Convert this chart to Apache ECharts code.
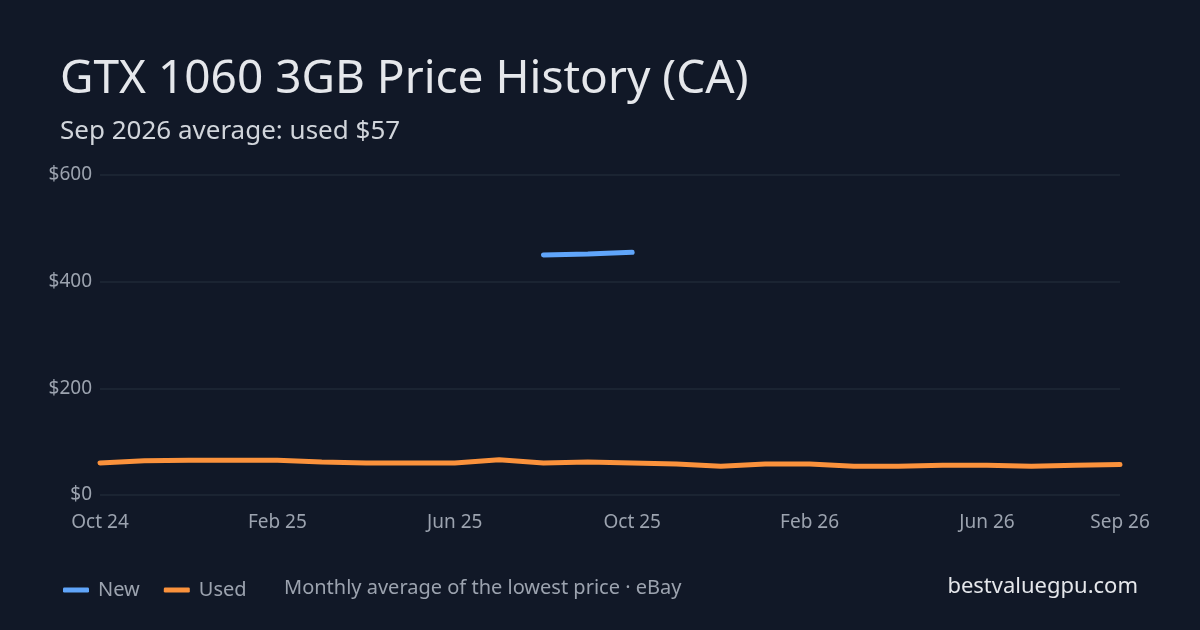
<!DOCTYPE html>
<html>
<head>
<meta charset="utf-8">
<script src="https://cdn.jsdelivr.net/npm/echarts@6/dist/echarts.min.js"></script>
<style>
  html, body { margin: 0; padding: 0; background: #111827; }
  #chart { width: 1200px; height: 630px; }
</style>
</head>
<body>
<div id="chart"></div>
<script>
// monthly points Oct 24 .. Sep 26
const months = ['Oct 24','Nov 24','Dec 24','Jan 25','Feb 25','Mar 25','Apr 25','May 25','Jun 25','Jul 25','Aug 25','Sep 25',
  'Oct 25','Nov 25','Dec 25','Jan 26','Feb 26','Mar 26','Apr 26','May 26','Jun 26','Jul 26','Aug 26','Sep 26'];
const newPrices = [null,null,null,null,null,null,null,null,null,null,450,452,455,null,null,null,null,null,null,null,null,null,null,null];
const usedPrices = [60,64,65,65,65,62,60,60,60,66,60,62,60,58,54,58,58,54,54,56,56,54,56,57];
const yTicks = [0, 200, 400, 600];

const chart = echarts.init(document.getElementById('chart'));
const font = 'Noto Sans';

chart.setOption({
  backgroundColor: '#111827',
  animation: false,
  textStyle: { fontFamily: font },
  title: [
    { text: 'GTX 1060 3GB Price History (CA)', left: 55, top: 52,
      textStyle: { color: '#e5e7eb', fontSize: 46, fontWeight: 'normal', fontFamily: font } },
    { text: 'Sep 2026 average: used $57', left: 55, top: 114,
      textStyle: { color: '#d1d5db', fontSize: 26, fontWeight: 'normal', fontFamily: font } },
    { text: 'Monthly average of the lowest price · eBay', left: 279, top: 573,
      textStyle: { color: '#9ca3af', fontSize: 20, fontWeight: 'normal', fontFamily: font } },
    { text: 'bestvaluegpu.com', right: 57, top: 571,
      textStyle: { color: '#e5e7eb', fontSize: 22, fontWeight: 'normal', fontFamily: font } }
  ],
  legend: {
    left: 58, top: 575, itemGap: 24, itemWidth: 26, itemHeight: 5,
    icon: 'roundRect',
    textStyle: { color: '#9ca3af', fontSize: 20, fontFamily: font, padding: [0, 0, 0, 4] },
    data: ['New', 'Used']
  },
  grid: { left: 100, right: 80, top: 175, bottom: 135 },
  xAxis: {
    type: 'category', data: months, boundaryGap: false,
    axisLine: { show: false }, axisTick: { show: false },
    axisLabel: {
      color: '#9ca3af', fontSize: 19, margin: 18,
      interval: (i) => i % 4 === 0 || i === months.length - 1
    }
  },
  yAxis: {
    type: 'value', min: yTicks[0], max: yTicks[yTicks.length - 1], interval: 200,
    axisLabel: { color: '#9ca3af', fontSize: 19, formatter: (v) => '$' + v, margin: 8 },
    splitLine: { lineStyle: { color: '#1f2937', width: 1.5 } }
  },
  series: [
    { name: 'New', type: 'line', data: newPrices, showSymbol: false, connectNulls: false,
      itemStyle: { color: '#60a5fa' }, lineStyle: { width: 5, color: '#60a5fa', cap: 'round' } },
    { name: 'Used', type: 'line', data: usedPrices, showSymbol: false,
      itemStyle: { color: '#fb923c' }, lineStyle: { width: 5, color: '#fb923c', cap: 'round' } }
  ]
});
</script>
</body>
</html>
